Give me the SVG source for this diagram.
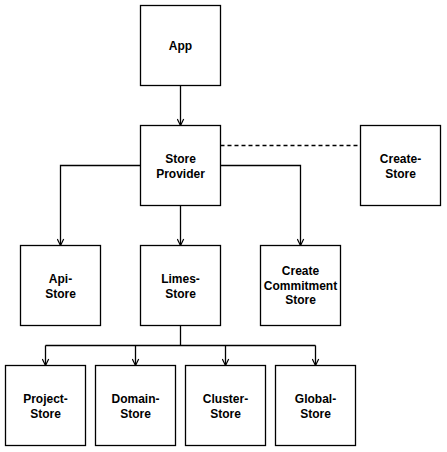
<svg xmlns="http://www.w3.org/2000/svg" width="447" height="452" viewBox="0 0 447 452">
<defs>
<style>
.box{fill:#fff;stroke:#000;stroke-width:1.3}
.lbl{font-family:"Liberation Sans",Arial,Helvetica,sans-serif;font-size:12px;font-weight:bold;fill:#000;text-anchor:middle}
.edge{fill:none;stroke:#000;stroke-width:1.3}
.dash{fill:none;stroke:#000;stroke-width:1.3;stroke-dasharray:4 3}
</style>
<marker id="open" viewBox="0 0 10 10" refX="9" refY="5" markerWidth="8" markerHeight="8" markerUnits="userSpaceOnUse" orient="auto">
<path d="M1,1 L9,5 L1,9" fill="none" stroke="#000" stroke-width="1.5"/>
</marker>
</defs>
<rect width="447" height="452" fill="#fff"/>
<g id="connectors">
<path class="edge" d="M180.5,85.5 V125.5" marker-end="url(#open)"/>
<path class="edge" d="M140.5,165.5 H60.5 V245.5" marker-end="url(#open)"/>
<path class="edge" d="M180.5,205.5 V245.5" marker-end="url(#open)"/>
<path class="edge" d="M220.5,165.5 H300.5 V245.5" marker-end="url(#open)"/>
<path class="dash" d="M220.5,145.5 H360.5"/>
<path class="edge" d="M180.5,325.5 V345.5"/>
<path class="edge" d="M45.5,345.5 H315.5"/>
<path class="edge" d="M45.5,345.5 V365.5" marker-end="url(#open)"/>
<path class="edge" d="M135.5,345.5 V365.5" marker-end="url(#open)"/>
<path class="edge" d="M225.5,345.5 V365.5" marker-end="url(#open)"/>
<path class="edge" d="M315.5,345.5 V365.5" marker-end="url(#open)"/>
</g>
<g id="app"><rect class="box" x="140.5" y="5.5" width="80" height="80"/><text class="lbl" x="180.5" y="49.5">App</text></g>
<g id="store-provider"><rect class="box" x="140.5" y="125.5" width="80" height="80"/><text class="lbl" x="180.5" y="162.5">Store</text><text class="lbl" x="180.5" y="177.5">Provider</text></g>
<g id="create-store"><rect class="box" x="360.5" y="125.5" width="80" height="80"/><text class="lbl" x="400.5" y="162.5">Create-</text><text class="lbl" x="400.5" y="177.5">Store</text></g>
<g id="api-store"><rect class="box" x="20.5" y="245.5" width="80" height="80"/><text class="lbl" x="60.5" y="282.5">Api-</text><text class="lbl" x="60.5" y="297.5">Store</text></g>
<g id="limes-store"><rect class="box" x="140.5" y="245.5" width="80" height="80"/><text class="lbl" x="180.5" y="282.5">Limes-</text><text class="lbl" x="180.5" y="297.5">Store</text></g>
<g id="create-commitment-store"><rect class="box" x="260.5" y="245.5" width="80" height="80"/><text class="lbl" x="300.5" y="275">Create</text><text class="lbl" x="300.5" y="289.5">Commitment</text><text class="lbl" x="300.5" y="304">Store</text></g>
<g id="project-store"><rect class="box" x="5.5" y="365.5" width="80" height="80"/><text class="lbl" x="45.5" y="402.5">Project-</text><text class="lbl" x="45.5" y="417.5">Store</text></g>
<g id="domain-store"><rect class="box" x="95.5" y="365.5" width="80" height="80"/><text class="lbl" x="135.5" y="402.5">Domain-</text><text class="lbl" x="135.5" y="417.5">Store</text></g>
<g id="cluster-store"><rect class="box" x="185.5" y="365.5" width="80" height="80"/><text class="lbl" x="225.5" y="402.5">Cluster-</text><text class="lbl" x="225.5" y="417.5">Store</text></g>
<g id="global-store"><rect class="box" x="275.5" y="365.5" width="80" height="80"/><text class="lbl" x="315.5" y="402.5">Global-</text><text class="lbl" x="315.5" y="417.5">Store</text></g>
</svg>
